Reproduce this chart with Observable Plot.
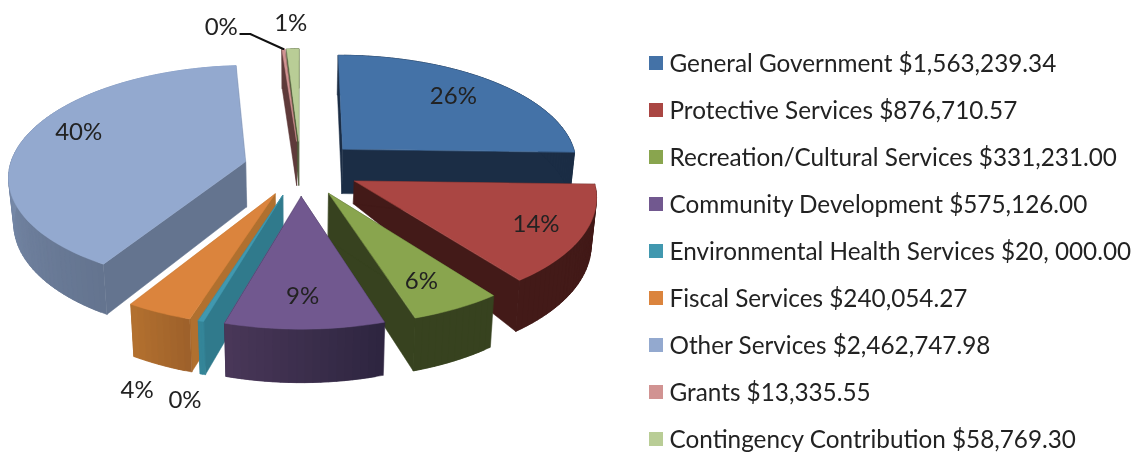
<!DOCTYPE html>
<html>
<head>
<meta charset="utf-8">
<script src="https://cdn.jsdelivr.net/npm/d3@7"></script>
<script src="https://cdn.jsdelivr.net/npm/@observablehq/plot@0.6"></script>
<style>
html,body{margin:0;padding:0;background:#fff;}
svg{display:block;filter:blur(0.7px);}
</style>
</head>
<body>
<div id="chart"></div>
<script>
const categories = ["General Government","Protective Services","Recreation/Cultural Services","Community Development","Environmental Health Services","Fiscal Services","Other Services","Grants","Contingency Contribution"];
const values = [1563239.34,876710.57,331231.00,575126.00,20000.00,240054.27,2462747.98,13335.55,58769.30];
const amountLabels = ["$1,563,239.34","$876,710.57","$331,231.00","$575,126.00","$20, 000.00","$240,054.27","$2,462,747.98","$13,335.55","$58,769.30"];
const percentLabels = ["26%","14%","6%","9%","0%","4%","40%","0%","1%"];

// Styling, kept apart from the data
const topColors   = ["#4472A7","#AA4643","#89A54E","#71588F","#4198AF","#DB843D","#93A9CF","#D19392","#B9CD96"];
const radialColors= ["#1B2D45","#431A18","#37421F","#2E2540","#307A8C","#B0702F","#64748F","#5E3A3A","#4E5A38"];
const wallFrom    = ["#1B2D45","#431A18","#37421F","#2E2540","#348598","#9E612B","#64748F","#5E3A3A","#4E5A38"];
const wallTo      = ["#1B2D45","#431A18","#37421F","#4A3859","#348598","#B5722F","#93A9CF","#5E3A3A","#4E5A38"];
const apexDrop    = [1,0.5,1,1,1,1,1,1,1];
const explodes    = [60,60,60,60,60,60,57,60,60];
const labelFrac   = [0.75,0.787,0.745,0.72,1.106,1.106,0.766,1,1];
const labelDx     = [-4,4,0,-1,-6,-8,3,-62,-2];
const labelDy     = [-1,1,5,8,64,63,-11,-22,-26];
const drawOrder   = [8,7,0,6,1,5,4,2,3];

// Perspective of the pie plane
const cx = 300, cy = 167.5, R = 236, focal = 1978, tilt = 0.463, depth = 45.5, wallShrink = 0.982;
const project = (X, Y) => { const p = 1 / (1 + Y / focal); return [cx + X * p, cy - tilt * Y * p, p]; };

const arcs = d3.pie().sort(null).value(d => d)(values);
const at = (a, i, r, theta) => {
  const mid = (a.startAngle + a.endAngle) / 2;
  return project(explodes[i] * Math.sin(mid) + r * Math.sin(theta), explodes[i] * Math.cos(mid) + r * Math.cos(theta));
};

const polygons = [];
let pid = 0;
const addPoly = (pts, color) => { pid++; for (const [x, y] of pts) polygons.push({id: pid, x, y, color}); };

for (const i of drawOrder) {
  const a = arcs[i];
  const n = Math.max(2, Math.ceil((a.endAngle - a.startAngle) / 0.03));
  const thetas = d3.range(n + 1).map(k => a.startAngle + (a.endAngle - a.startAngle) * k / n);
  const rim = thetas.map(t => at(a, i, R, t));
  const apex = at(a, i, 0, 0);
  const down = (q, f = 1) => [cx + (q[0] - cx) * wallShrink, q[1] + depth * q[2] * f];
  const apexLow = down(apex, apexDrop[i]);
  // radial walls
  addPoly([apex, rim[n], down(rim[n]), apexLow], radialColors[i]);
  addPoly([apex, rim[0], down(rim[0]), apexLow], radialColors[i]);
  // outer wall, in overlapping facets
  const shade = d3.interpolateRgb(wallFrom[i], wallTo[i]);
  for (let k = 0; k < n; k++) {
    const e = Math.min(n, k + 2);
    addPoly([rim[k], rim[e], down(rim[e]), down(rim[k])], shade(k / n));
  }
  // top face
  addPoly([apex, ...rim], topColors[i]);
}

const labels = arcs.map((a, i) => {
  const mid = (a.startAngle + a.endAngle) / 2;
  const q = at(a, i, R * labelFrac[i], mid);
  return {x: q[0] + labelDx[i], y: q[1] + labelDy[i], text: percentLabels[i]};
});

const g = at(arcs[7], 7, R, (arcs[7].startAngle + arcs[7].endAngle) / 2);
const leader = [[0, 0], [-33, -15], [-43, -15]].map(([dx, dy]) => ({x: g[0] + dx, y: g[1] + dy}));

const legendX = 649, legendSwatch = 14, legendTextX = 669, legendTop = 63, legendStep = 47;
const legend = categories.map((c, i) => ({
  text: c + " " + amountLabels[i],
  color: topColors[i],
  y: legendTop + i * legendStep
}));

const font = "Lato, 'Open Sans', sans-serif";
const chart = Plot.plot({
  width: 1137, height: 453, margin: 0,
  x: {domain: [0, 1137], axis: null},
  y: {domain: [453, 0], axis: null},
  color: {type: "identity"},
  style: {background: "#fff"},
  marks: [
    Plot.line(polygons, {x: "x", y: "y", z: "id", fill: "color", stroke: "color", strokeWidth: 0.5, curve: "linear-closed"}),
    Plot.line(leader, {x: "x", y: "y", stroke: "#111", strokeWidth: 2}),
    Plot.text(labels, {x: "x", y: "y", text: "text", fontFamily: font, fontSize: 24, fill: "#222", textAnchor: "middle"}),
    Plot.rect(legend, {x1: () => legendX, x2: () => legendX + legendSwatch, y1: d => d.y - legendSwatch / 2, y2: d => d.y + legendSwatch / 2, fill: "color"}),
    Plot.text(legend, {x: () => legendTextX, y: "y", dy: 1, text: "text", fontFamily: font, fontSize: 24.3, fill: "#222", textAnchor: "start"})
  ]
});
document.getElementById("chart").appendChild(chart);
</script>
</body>
</html>
